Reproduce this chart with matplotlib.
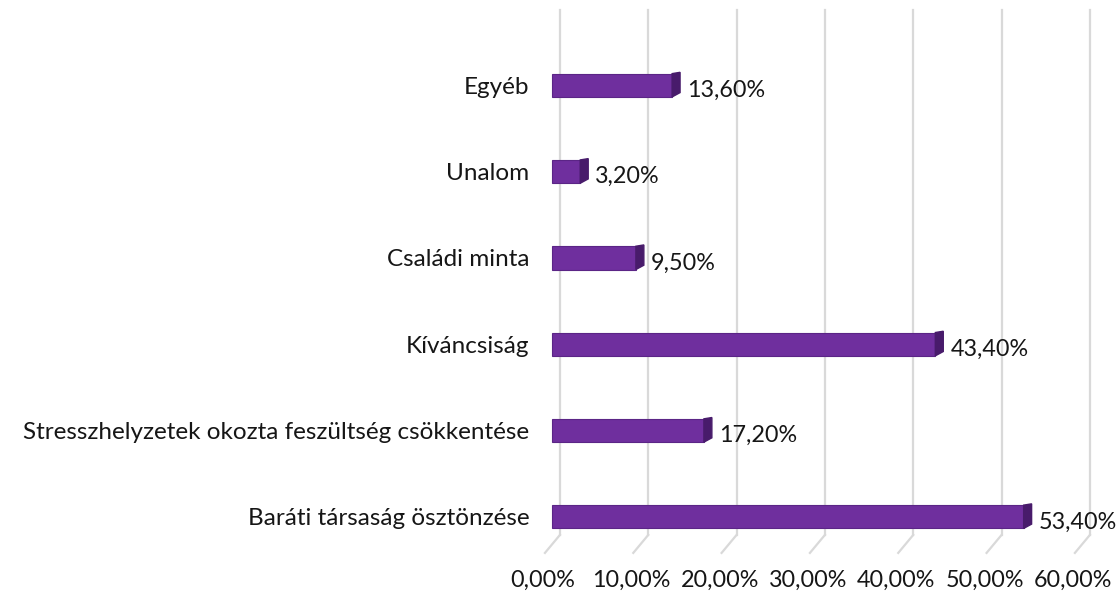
import matplotlib
matplotlib.use("Agg")
import matplotlib.pyplot as plt
import matplotlib.transforms as mtransforms
from matplotlib.patches import Polygon
import numpy as np

categories = ["Baráti társaság ösztönzése",
              "Stresszhelyzetek okozta feszültség csökkentése",
              "Kíváncsiság",
              "Családi minta",
              "Unalom",
              "Egyéb"]
values = [53.4, 17.2, 43.4, 9.5, 3.2, 13.6]
value_labels = ["53,40%", "17,20%", "43,40%", "9,50%", "3,20%", "13,60%"]
xticks = [0, 10, 20, 30, 40, 50, 60]
xtick_labels = ["0,00%", "10,00%", "20,00%", "30,00%", "40,00%", "50,00%", "60,00%"]

plt.rcParams['font.family'] = ['Lato', 'DejaVu Sans']

fig = plt.figure(figsize=(11.19, 5.99), dpi=100)
ax = fig.add_axes([0.5004, 0.107, 0.4736, 0.876])
ax.set_xlim(0, 60)
ax.set_ylim(-0.21, 5.87)

y = np.arange(len(categories))
depth = 0.9      # 3D depth in data units (x)
h = 0.27
front = "#6f2f9e"
side = "#481b6b"
txtc = "#161616"
fs = 17.5
fs_num = 16.8

for yi, v, lab in zip(y, values, value_labels):
    ax.barh(yi, v, left=-depth, height=h, color=front, edgecolor="#5b2586",
            linewidth=0.8, zorder=3, clip_on=False)
    # darker right side face (subtle 3D end)
    poly = Polygon([(v - depth, yi - h / 2), (v - depth, yi + h / 2),
                    (v, yi + h / 2 + 0.015), (v, yi - h / 2 + 0.05)],
                   closed=True, facecolor=side, edgecolor=side, zorder=4,
                   clip_on=False)
    ax.add_patch(poly)
    ax.text(v + 0.8, yi - 0.06, lab, va="center", ha="left", fontsize=fs_num,
            color=txtc, zorder=5)

# gridlines
for xt in xticks:
    ax.plot([xt, xt], [-0.21, 5.87], color="#d9d9d9", lw=1.6, zorder=1,
            clip_on=False)
    # perspective stubs
    base = ax.transData.transform((xt, -0.21))
    p2 = ax.transData.inverted().transform((base[0] - 15, base[1] - 18))
    ax.plot([xt, p2[0]], [-0.21, p2[1]], color="#d9d9d9", lw=1.6, zorder=1,
            clip_on=False)

ax.set_yticks(y)
ax.set_yticklabels(categories, fontsize=fs, color=txtc)
ax.tick_params(axis="y", length=0, pad=22)
ax.set_xticks(xticks)
ax.set_xticklabels(xtick_labels, fontsize=fs_num, color=txtc)
ax.tick_params(axis="x", length=0, pad=25)
offset = mtransforms.ScaledTranslation(-17 / 100, 0, fig.dpi_scale_trans)
for t in ax.get_xticklabels():
    t.set_transform(t.get_transform() + offset)

for s in ax.spines.values():
    s.set_visible(False)

fig.savefig("out.png", dpi=100)
